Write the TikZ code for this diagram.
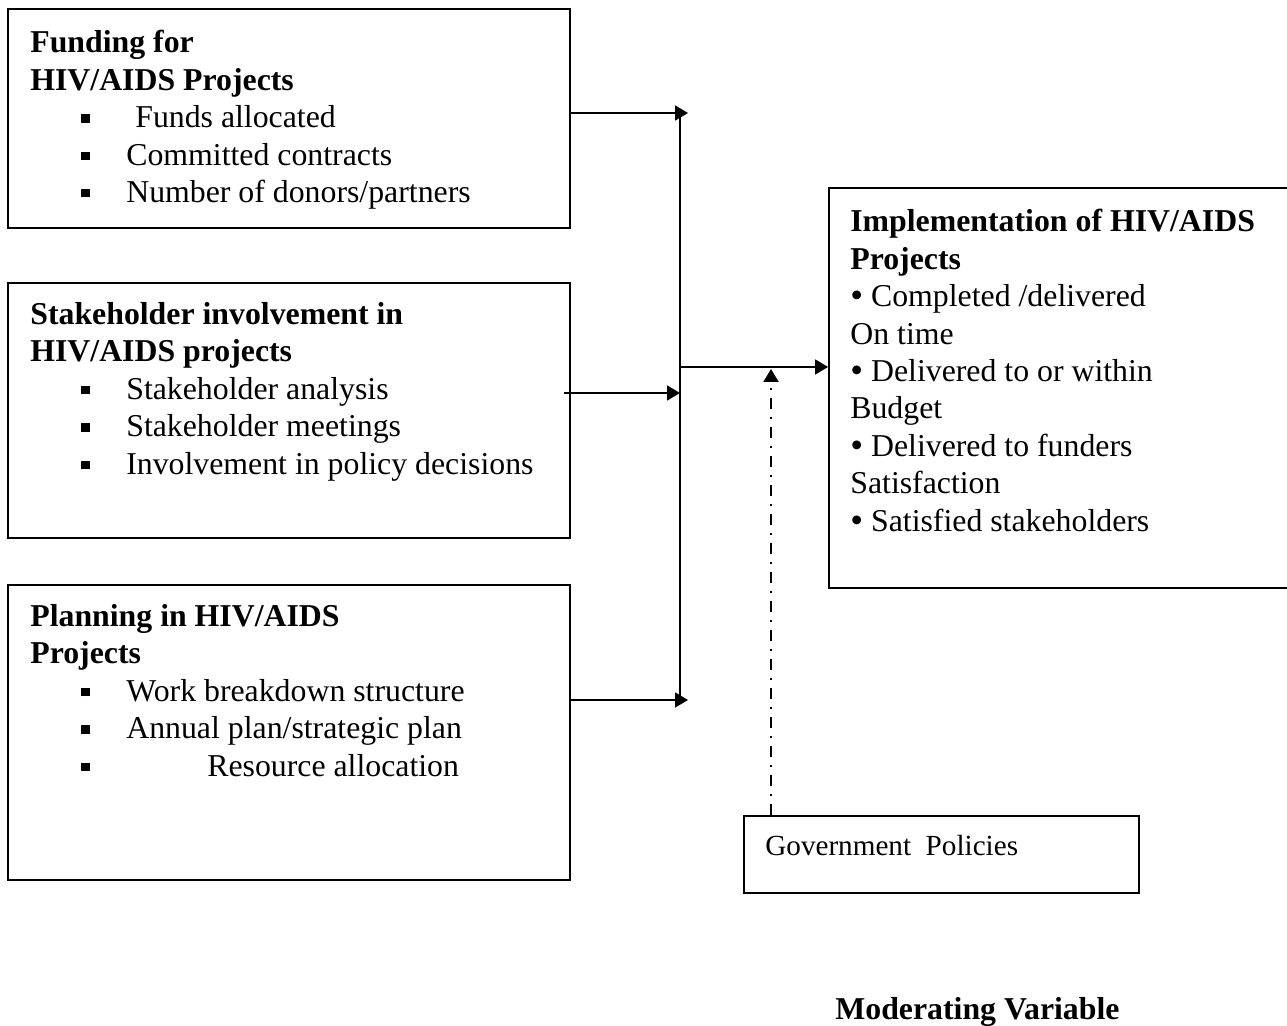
\documentclass[tikz,border=0pt]{standalone}
\usepackage{fontspec}
\setmainfont{Liberation Serif}
\usetikzlibrary{arrows.meta}
\newcommand{\carre}[2][0cm]{\hspace*{1.02cm}\makebox[0.90cm][l]{\rule[0.10cm]{0.17cm}{0.17cm}}\hspace*{#1}#2}
\newcommand{\rond}{\raisebox{-0.02cm}{\scalebox{1.15}{\textbullet}}\ }

\begin{document}
\begin{tikzpicture}[x=0.02cm,y=-0.02cm]
    \useasboundingbox (0,0) rectangle (1287,1026);
    \tikzstyle{cadre}=[rectangle,draw,line width=1.1pt,inner sep=0pt]
    \tikzstyle{texte}=[align=left,inner sep=0pt,anchor=north west,font=\fontsize{18.1pt}{21.3pt}\selectfont]
    \node[cadre,minimum width=11.24cm,minimum height=4.38cm] (fundbox) at (289,118.5) {};
    \node[cadre,minimum width=11.24cm,minimum height=5.10cm] (stakebox) at (289,410.5) {};
    \node[cadre,minimum width=11.24cm,minimum height=5.90cm] (planbox) at (289,732.5) {};
    \node[cadre,minimum width=9.42cm,minimum height=8.00cm] (implbox) at (1064.5,388) {};
    \node[cadre,minimum width=7.90cm,minimum height=1.54cm] (govbox) at (941.5,854.5) {};

    \node[texte] (fundtxt) at (30,30) {\textbf{Funding for}\\ \textbf{HIV/AIDS Projects}\\ \carre[0.18cm]{Funds allocated}\\ \carre{Committed contracts}\\ \carre{Number of donors/partners}};
    \node[texte] (staketxt) at (30,302) {\textbf{Stakeholder involvement in}\\ \textbf{HIV/AIDS projects}\\ \carre{Stakeholder analysis}\\ \carre{Stakeholder meetings}\\ \carre{Involvement in policy decisions}};
    \node[texte] (plantxt) at (30,604) {\textbf{Planning in HIV/AIDS}\\ \textbf{Projects}\\ \carre{Work breakdown structure}\\ \carre{Annual plan/strategic plan}\\ \carre[1.62cm]{Resource allocation}};
    \node[texte] (impltxt) at (850,209) {\textbf{Implementation of HIV/AIDS}\\ \textbf{Projects}\\ \rond Completed /delivered\\ On time\\ \rond Delivered to or within\\ Budget\\ \rond Delivered to funders\\ Satisfaction\\ \rond Satisfied stakeholders};
    \node[anchor=base west,inner sep=0pt,font=\fontsize{16.6pt}{19pt}\selectfont] (govtxt) at (765,855) {Government\ \ Policies};
    \node[anchor=base west,inner sep=0pt,font=\fontsize{18.1pt}{21.3pt}\selectfont\bfseries] (modtxt) at (835,1019) {Moderating Variable};

    \tikzstyle{trait}=[line width=1.1pt]
    \tikzstyle{fleche}=[-{Triangle[length=7.4pt,width=8.5pt]},line width=1.1pt]
    \tikzstyle{pointille}=[fleche,line width=1.4pt,dash pattern=on 0.23cm off 0.15cm on 0.05cm off 0.15cm]
    \coordinate (busN) at (680,113);
    \coordinate (busS) at (680,700);
    \coordinate (busC) at (680,367);
    \coordinate (tipA) at (688,113);
    \coordinate (tipB) at (680,393);
    \coordinate (tipC) at (688,700);
    \coordinate (modtip) at (771,369);
    \draw[trait] (busN) -- (busS);
    \draw[fleche] (fundbox.east |- tipA) -- (tipA);
    \draw[fleche] ([xshift=-0.14cm]stakebox.east |- tipB) -- (tipB);
    \draw[fleche] (planbox.east |- tipC) -- (tipC);
    \draw[fleche] (busC) -- (implbox.west |- busC);
    \draw[pointille] (govbox.north -| modtip) -- (modtip);
\end{tikzpicture}
\end{document}
